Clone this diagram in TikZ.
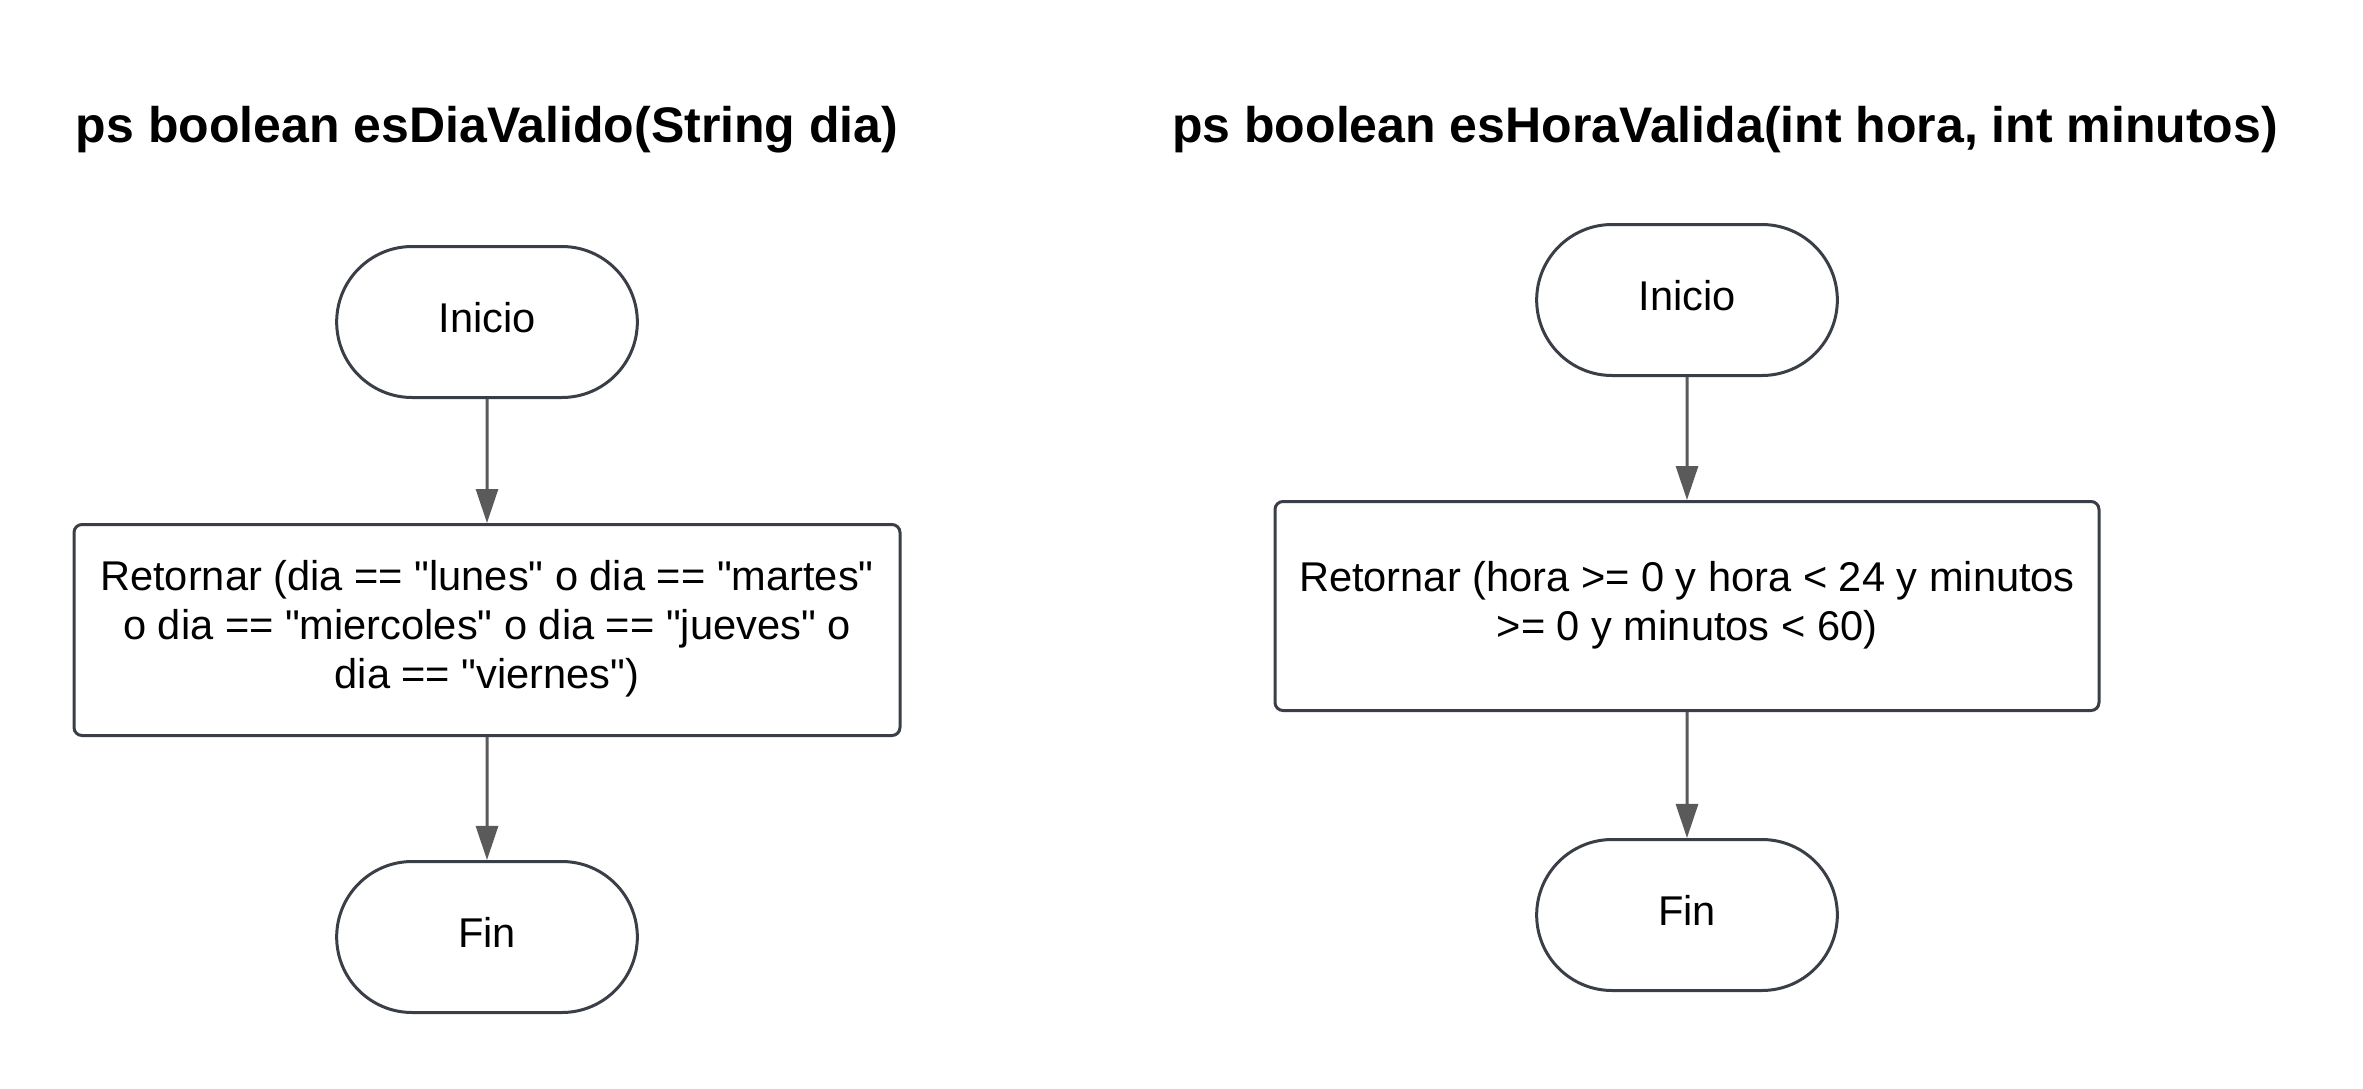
\documentclass[tikz,border=0pt]{standalone}
\usepackage{fontspec}
\setmainfont{Liberation Sans}[Ligatures=TeXOff]
\usetikzlibrary{shapes.misc,arrows.meta}
\definecolor{bord}{HTML}{3A3F47}
\definecolor{arr}{HTML}{5A5A5A}
\newcommand\dq{\symbol{34}}
\newcommand\ml[1]{\raisebox{3pt}{\begin{tabular}{@{}c@{}}#1\end{tabular}}}
\tikzset{
  term/.style={rounded rectangle, draw=bord, line width=1.5pt, fill=white,
    minimum width=157pt, minimum height=75.5pt, text depth=5pt,
    font=\fontsize{20.8}{24.5}\selectfont},
  procbox/.style={rectangle, rounded corners=4pt, draw=bord, line width=1.5pt, fill=white,
    inner sep=0pt, font=\fontsize{20.8}{24.5}\selectfont},
  ttl/.style={font=\fontsize{25}{29}\selectfont\bfseries},
  flow/.style={draw=arr, line width=1.5pt, -{Triangle[length=17pt,width=11pt]}}
}
\begin{document}
\begin{tikzpicture}[x=0.5pt,y=-0.5pt]
\useasboundingbox[fill=white] (0,0) rectangle (2363,1088);
% left
\node[ttl] (t1) at (487,130) {ps boolean esDiaValido(String dia)};
\node[term] (i1) at (487,322) {Inicio};
\node[procbox, minimum width=413pt, minimum height=105.5pt] (b1) at (487,630)
  {\ml{Retornar (dia == \dq lunes\dq{} o dia == \dq martes\dq\\o dia == \dq miercoles\dq{} o dia == \dq jueves\dq{} o\\dia == \dq viernes\dq)}};
\node[term] (f1) at (487,937) {Fin};
\draw[flow] (i1) -- (b1);
\draw[flow] (b1) -- (f1);
% right
\node[ttl] (t2) at (1725,130) {ps boolean esHoraValida(int hora, int minutos)};
\node[term] (i2) at (1687,300) {Inicio};
\node[procbox, minimum width=412pt, minimum height=104.5pt] (b2) at (1687,606)
  {\ml{Retornar (hora >= 0 y hora < 24 y minutos\\>= 0 y minutos < 60)}};
\node[term] (f2) at (1687,915) {Fin};
\draw[flow] (i2) -- (b2);
\draw[flow] (b2) -- (f2);
\end{tikzpicture}
\end{document}
